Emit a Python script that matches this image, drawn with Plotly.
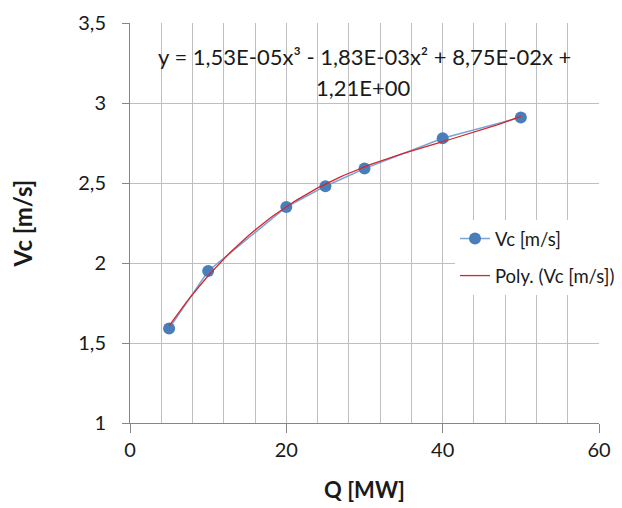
import numpy as np
import plotly.graph_objects as go

# Data
q_mw = [5, 10, 20, 25, 30, 40, 50]
vc_ms = [1.59, 1.95, 2.35, 2.48, 2.59, 2.78, 2.91]
series_name = "Vc [m/s]"
trend_name = "Poly. (Vc [m/s])"
eq_line1 = "y = 1,53E-05x³ - 1,83E-03x² + 8,75E-02x +"
eq_line2 = "1,21E+00"
x_title = "Q [MW]"
y_title = "Vc [m/s]"

# Polynomial (3rd order) trendline fitted to the data
coef = np.polyfit(q_mw, vc_ms, 3)
x_fit = np.linspace(min(q_mw), max(q_mw), 120)
y_fit = np.polyval(coef, x_fit)

FONT = "Lato"
TXT = "#1a1a1a"
GRID = "#bfbfbf"
AXIS = "#868686"

# page has an 8px body margin; plot area in window px: x 130-599, y 23-423
OFF = 8
PL, PR, PT, PB = 130, 599, 23, 423
W, H = 622 - OFF, 508 - OFF


def py(ypx):
    return (PB - ypx) / (PB - PT)


def px(xpx):
    return (xpx - PL) / (PR - PL)


fig = go.Figure()
fig.add_trace(go.Scatter(
    x=q_mw, y=vc_ms, mode="lines+markers", name=series_name,
    line=dict(color="#7aa3d6", width=1.5),
    marker=dict(color="#4a7ebb", size=12),
    legendgroup="a",
))
fig.add_trace(go.Scatter(
    x=x_fit, y=y_fit, mode="lines", name=trend_name,
    line=dict(color="#d0282c", width=1.3),
    legendgroup="b",
))

fig.add_annotation(x=px(364), y=py(57), xref="paper", yref="paper", text=eq_line1,
                   xanchor="center", yanchor="middle",
                   showarrow=False, font=dict(family=FONT, size=22, color=TXT))
fig.add_annotation(x=px(363), y=py(87), xref="paper", yref="paper", text=eq_line2,
                   xanchor="center", yanchor="middle",
                   showarrow=False, font=dict(family=FONT, size=22, color=TXT))

fig.update_layout(
    width=W, height=H,
    margin=dict(l=PL - OFF, r=W - (PR - OFF), t=PT - OFF, b=H - (PB - OFF), autoexpand=False),
    paper_bgcolor="white", plot_bgcolor="white",
    separators=", ",
    font=dict(family=FONT, size=20, color=TXT),
    showlegend=True,
    legend=dict(
        x=px(455), y=py(220), xanchor="left", yanchor="top",
        bgcolor="white", borderwidth=0,
        font=dict(family=FONT, size=18.5, color=TXT),
        tracegroupgap=10,
    ),
    xaxis=dict(
        range=[0, 60], dtick=20, tick0=0,
        showgrid=True, gridcolor=GRID, gridwidth=1,
        minor=dict(dtick=4, showgrid=True, gridcolor=GRID, gridwidth=1),
        showline=True, linecolor=AXIS, linewidth=1,
        ticks="outside", ticklen=9, tickcolor=AXIS, tickwidth=1,
        zeroline=False,
        tickfont=dict(family=FONT, size=20, color=TXT),
        title=dict(text="<b>" + x_title + "</b>", font=dict(family=FONT, size=22, color=TXT), standoff=22),
    ),
    yaxis=dict(
        range=[1, 3.5], dtick=0.5, tick0=1,
        showgrid=True, gridcolor=GRID, gridwidth=1,
        showline=True, linecolor=AXIS, linewidth=1,
        ticks="outside", ticklen=7, tickcolor=AXIS, tickwidth=1,
        ticklabelstandoff=12,
        zeroline=False,
        tickfont=dict(family=FONT, size=20, color=TXT),
        title=dict(text="<b>" + y_title + "</b>", font=dict(family=FONT, size=24, color=TXT), standoff=43),
    ),
)

fig.write_html("out.html")
